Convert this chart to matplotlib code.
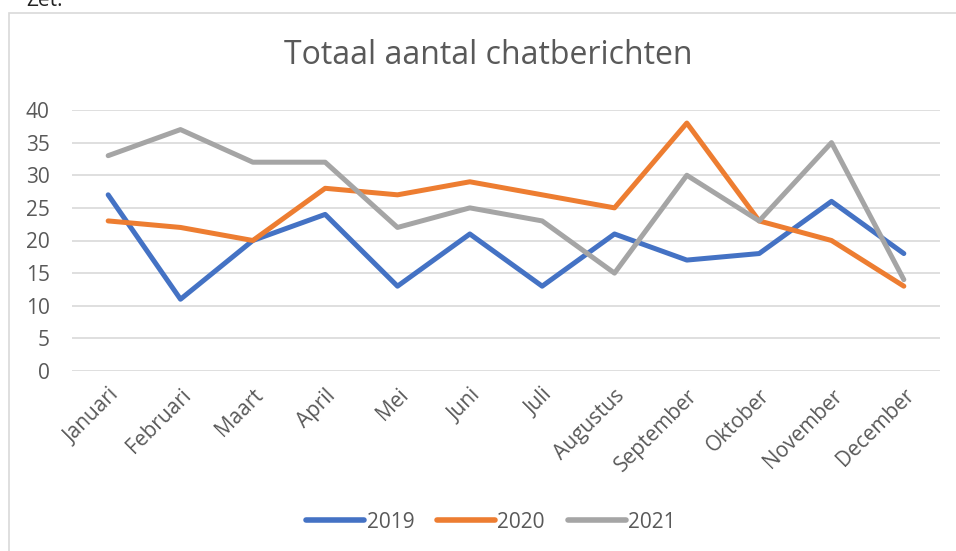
import matplotlib
matplotlib.use("Agg")
import matplotlib.pyplot as plt
from matplotlib.patches import Rectangle

months = ["Januari", "Februari", "Maart", "April", "Mei", "Juni", "Juli",
          "Augustus", "September", "Oktober", "November", "December"]
s2019 = [27, 11, 20, 24, 13, 21, 13, 21, 17, 18, 26, 18]
s2020 = [23, 22, 20, 28, 27, 29, 27, 25, 38, 23, 20, 13]
s2021 = [33, 37, 32, 32, 22, 25, 23, 15, 30, 23, 35, 14]
series = [("2019", s2019, "#4472C4"), ("2020", s2020, "#ED7D31"), ("2021", s2021, "#A5A5A5")]
yticks = [0, 5, 10, 15, 20, 25, 30, 35, 40]

plt.rcParams['font.family'] = ['Open Sans', 'DejaVu Sans']
W, H = 956, 551
fig = plt.figure(figsize=(W/100, H/100), dpi=100)
fig.patch.set_facecolor("white")

# outer frame
fig.patches.append(Rectangle((8.5/W, -0.01), 1.02, 1 - 12.5/H + 0.01, transform=fig.transFigure,
                             fill=False, edgecolor="#D9D9D9", linewidth=1.2))
fig.text(26/W, 1 - 6/H, "Zet.", fontsize=15, color="#222222", va="baseline")

ax = fig.add_axes([72/W, 1 - 371/H, (940-72)/W, (371-110)/H])
x = list(range(len(months)))
for name, vals, col in series:
    ax.plot(x, vals, color=col, linewidth=3.6, label=name, solid_capstyle="round",
            solid_joinstyle="round")
ax.set_xlim(-0.5, len(months) - 0.5)
ax.set_ylim(0, 40)
ax.set_yticks(yticks)
ax.set_xticks(x)
ax.set_xticklabels(months, rotation=45, ha="right", rotation_mode="anchor")
ax.grid(axis="y", color="#D9D9D9", linewidth=1.2)
ax.set_axisbelow(True)
for sp in ax.spines.values():
    sp.set_visible(False)
ax.tick_params(axis="both", length=0, labelsize=15, colors="#595959")
ax.tick_params(axis="y", pad=16)
ax.tick_params(axis="x", pad=10)

fig.text(488/W, 1 - 56/H, "Totaal aantal chatberichten", fontsize=23, color="#595959",
         ha="center", va="center")

leg = fig.legend(loc="center", bbox_to_anchor=(491/W, 1 - 522/H), ncol=3, frameon=False,
                 fontsize=15, handlelength=2.8, handletextpad=0.1, columnspacing=1.1)
for t in leg.get_texts():
    t.set_color("#595959")
for l in leg.get_lines():
    l.set_linewidth(4)

fig.savefig("out.png", dpi=100)
